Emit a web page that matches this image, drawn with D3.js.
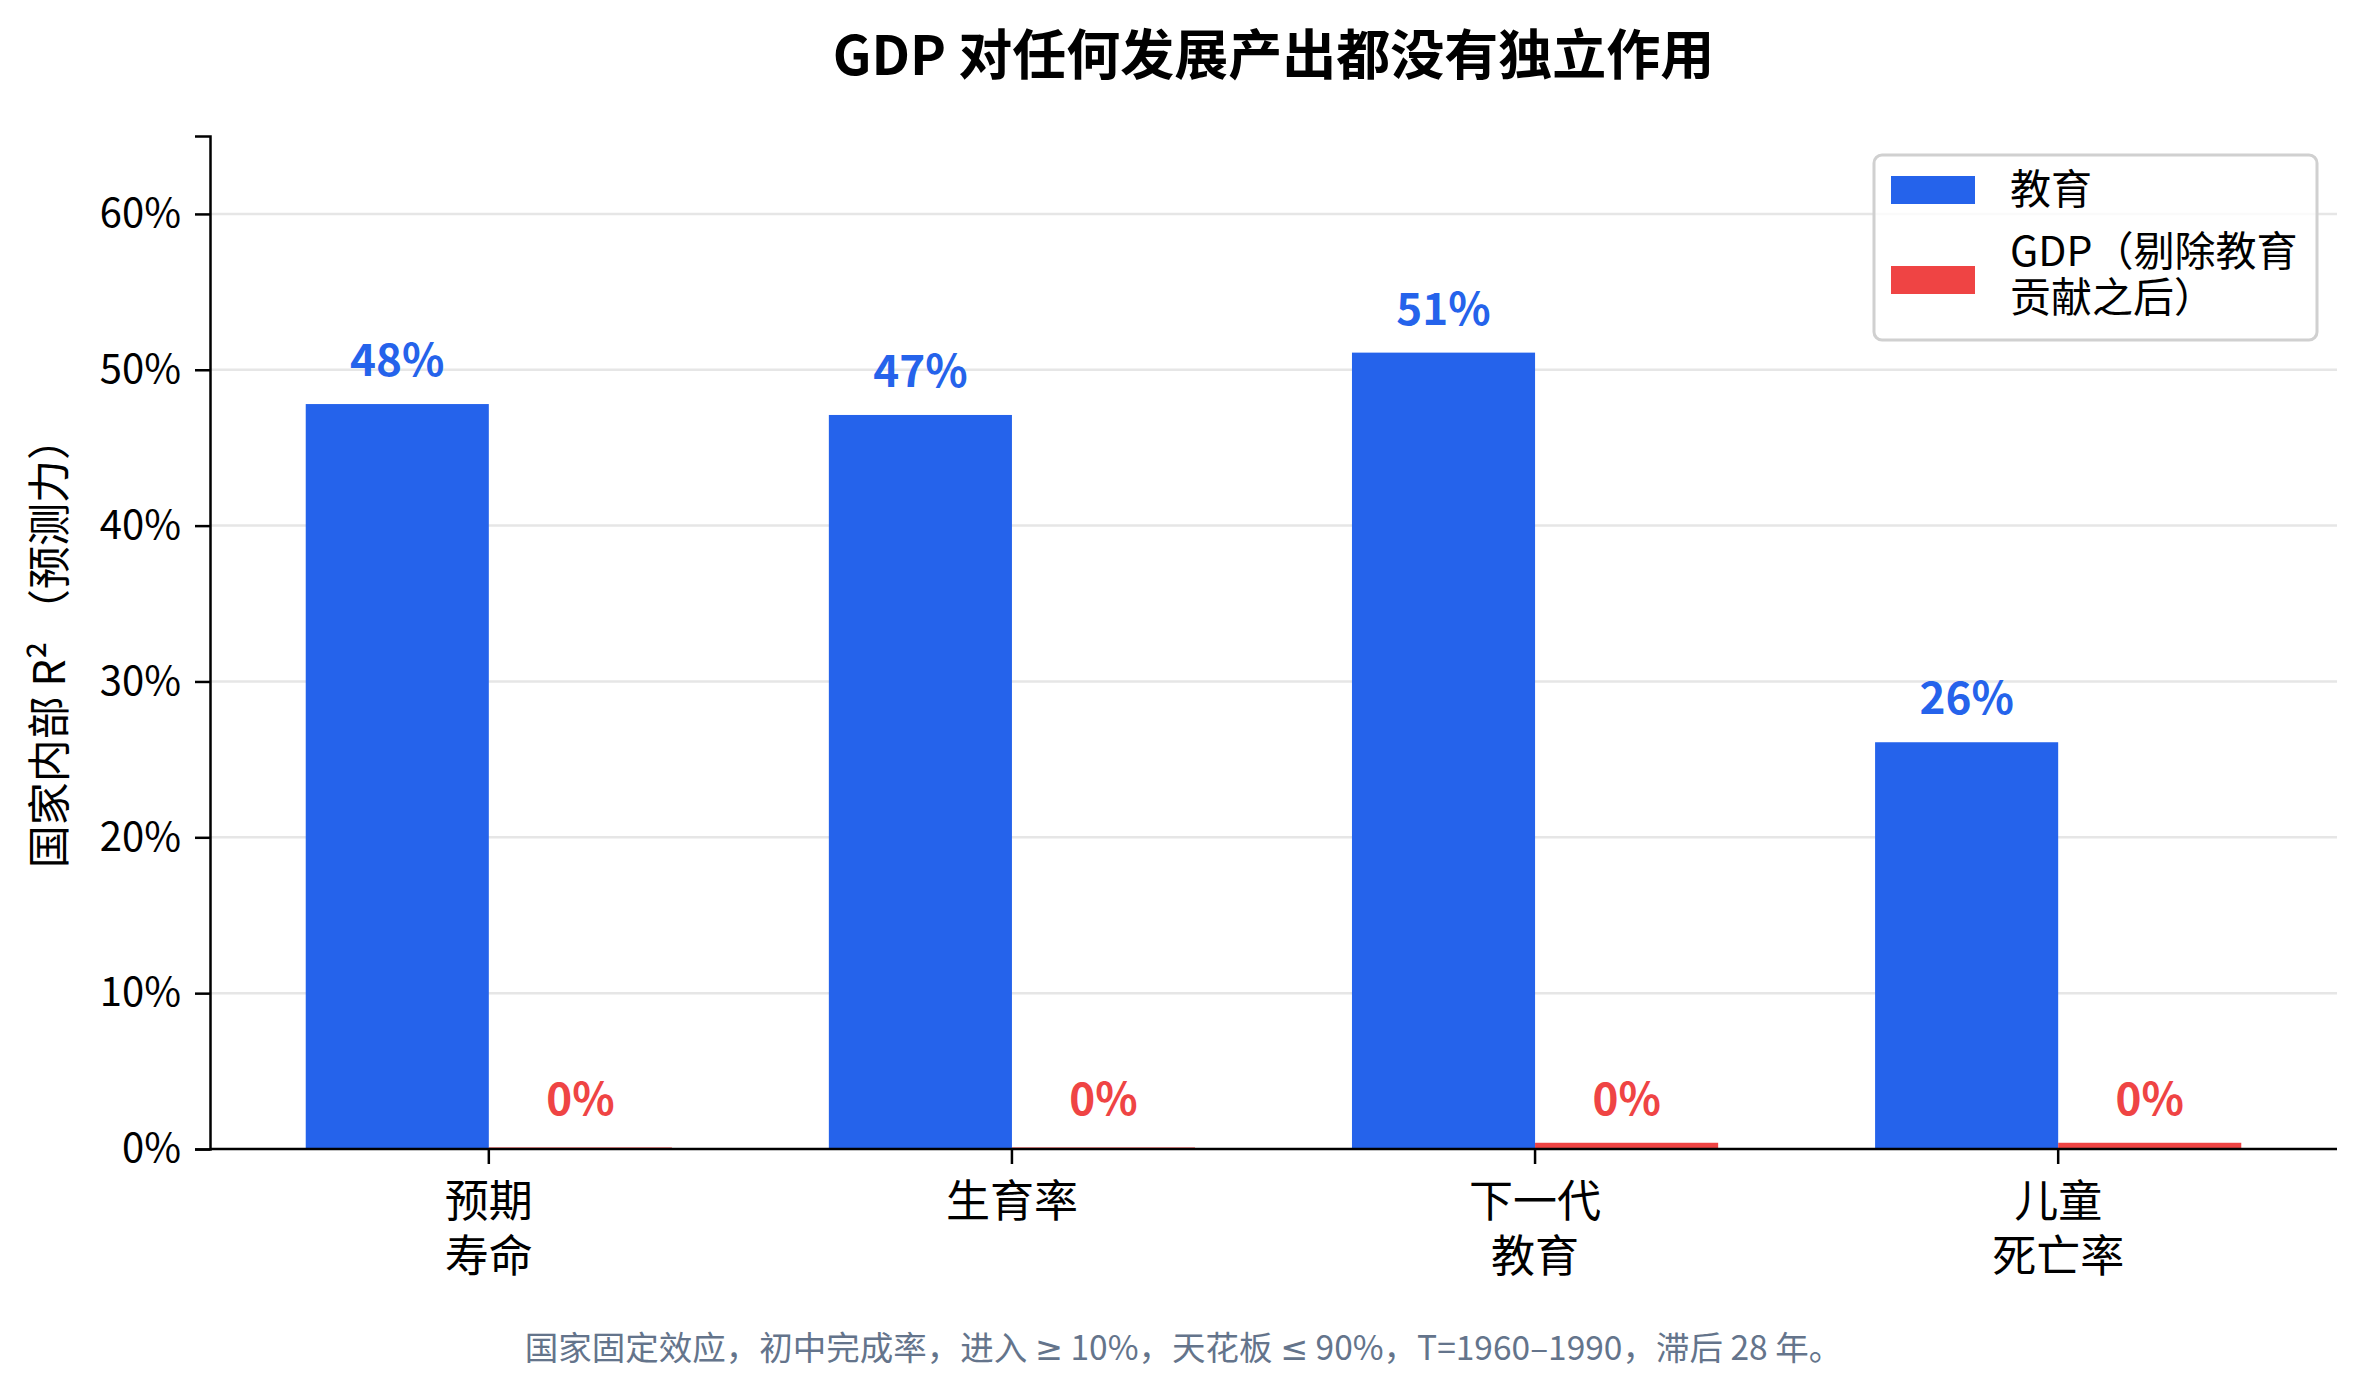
<!DOCTYPE html>
<html>
<head>
<meta charset="utf-8">
<script src="https://cdn.jsdelivr.net/npm/d3@7"></script>
<style>
  body { margin: 0; background: #fff; }
  svg text { font-family: "Noto Sans CJK SC", "Noto Sans", sans-serif; }
</style>
</head>
<body>
<div id="chart"></div>
<script>
// data
const categories = ["预期\n寿命", "生育率", "下一代\n教育", "儿童\n死亡率"];
const seriesNames = ["教育", "GDP（剔除教育\n贡献之后）"];
const education = [47.8, 47.1, 51.1, 26.1];
const gdpResidual = [0.1, 0.1, 0.4, 0.4];
const yTicks = [0, 10, 20, 30, 40, 50, 60];

const colors = ["#2563eb", "#ef4444"];

const width = 2367;
const height = 1398;
const margin = { top: 136, right: 30, bottom: 249, left: 210 };

const svg = d3.select("#chart")
  .append("svg")
  .attr("width", width)
  .attr("height", height);

const x0 = d3.scaleBand()
  .domain(categories)
  .range([margin.left, width - margin.right])
  .paddingInner(0.3)
  .paddingOuter(0.183);

const x1 = d3.scaleBand()
  .domain(seriesNames)
  .range([0, x0.bandwidth()]);

const y = d3.scaleLinear()
  .domain([0, 65])
  .range([height - margin.bottom, margin.top]);

// gridlines
svg.append("g")
  .selectAll("line")
  .data(yTicks.filter(d => d > 0))
  .enter()
  .append("line")
  .attr("x1", margin.left)
  .attr("x2", width - margin.right)
  .attr("y1", d => y(d))
  .attr("y2", d => y(d))
  .attr("stroke", "#e6e6e6")
  .attr("stroke-width", 2.5);

// bars
const rows = categories.map((c, i) => ({
  cat: c,
  vals: [education[i], gdpResidual[i]]
}));

const groups = svg.selectAll(".grp")
  .data(rows)
  .enter()
  .append("g")
  .attr("transform", d => `translate(${x0(d.cat)},0)`);

groups.selectAll("rect")
  .data(d => d.vals.map((v, j) => ({ v, j })))
  .enter()
  .append("rect")
  .attr("x", d => x1(seriesNames[d.j]))
  .attr("width", x1.bandwidth())
  .attr("y", d => y(d.v))
  .attr("height", d => y(0) - y(d.v))
  .attr("fill", d => colors[d.j]);

// value labels (tiny bars get a floor so the label clears the axis)
groups.selectAll(".val")
  .data(d => d.vals.map((v, j) => ({ v, j })))
  .enter()
  .append("text")
  .attr("x", d => x1(seriesNames[d.j]) + x1.bandwidth() / 2)
  .attr("y", d => y(Math.max(d.v, 0.4)) - 28)
  .attr("text-anchor", "middle")
  .style("font-size", "44px")
  .style("font-weight", "bold")
  .attr("fill", d => colors[d.j])
  .text(d => d3.format(".0f")(d.v) + "%");

// y axis
const yAxis = svg.append("g")
  .attr("transform", `translate(${margin.left},0)`)
  .call(d3.axisLeft(y).tickValues(yTicks).tickFormat(d => d + "%").tickSize(15).tickPadding(14));
yAxis.select(".domain").attr("stroke", "#000").attr("stroke-width", 2.5);
yAxis.selectAll(".tick line").attr("stroke", "#000").attr("stroke-width", 2.5);
yAxis.selectAll(".tick text")
  .attr("fill", "#000")
  .style("font-size", "40px")
  .style("font-family", "'Noto Sans CJK SC', sans-serif");

// x axis
const xAxis = svg.append("g")
  .attr("transform", `translate(0,${y(0)})`)
  .call(d3.axisBottom(x0).tickSize(15).tickFormat(""));
xAxis.select(".domain").attr("stroke", "#000").attr("stroke-width", 2.5)
  .attr("d", `M${margin.left},0H${width - margin.right}`);
xAxis.selectAll(".tick line").attr("stroke", "#000").attr("stroke-width", 2.5);

xAxis.selectAll(".tick")
  .append("text")
  .attr("text-anchor", "middle")
  .attr("fill", "#000")
  .style("font-size", "44px")
  .selectAll("tspan")
  .data(d => d.split("\n"))
  .enter()
  .append("tspan")
  .attr("x", 0)
  .attr("y", (d, i) => 68 + i * 55)
  .text(d => d);

// y label
svg.append("text")
  .attr("transform", `translate(46,${(y(0) + margin.top) / 2}) rotate(-90)`)
  .attr("text-anchor", "middle")
  .attr("dominant-baseline", "central")
  .style("font-size", "43px")
  .text("国家内部 R² （预测力）");

// title
svg.append("text")
  .attr("x", (margin.left + width - margin.right) / 2)
  .attr("y", 75)
  .attr("text-anchor", "middle")
  .style("font-size", "54px")
  .style("font-weight", "bold")
  .text("GDP 对任何发展产出都没有独立作用");

// legend
const legend = svg.append("g").attr("transform", "translate(1874,155)");
legend.append("rect")
  .attr("width", 443)
  .attr("height", 185)
  .attr("rx", 8)
  .attr("fill", "#fff")
  .attr("fill-opacity", 0.8)
  .attr("stroke", "#d0d0d0")
  .attr("stroke-width", 3);

const legendRows = [
  { sy: 21, lines: seriesNames[0].split("\n"), ty: [49] },
  { sy: 111, lines: seriesNames[1].split("\n"), ty: [111, 157] }
];
legendRows.forEach((r, i) => {
  legend.append("rect")
    .attr("x", 17)
    .attr("y", r.sy)
    .attr("width", 84)
    .attr("height", 28)
    .attr("fill", colors[i]);
  const t = legend.append("text")
    .attr("fill", "#000")
    .style("font-size", "41px");
  r.lines.forEach((ln, k) => {
    t.append("tspan")
      .attr("x", 136)
      .attr("y", r.ty[k])
      .text(ln);
  });
});

// footnote
const note = svg.append("text")
  .attr("x", width / 2)
  .attr("y", 1360)
  .attr("text-anchor", "middle")
  .attr("fill", "#64748b")
  .style("font-size", "33.5px");
const noteParts = [
  ["国家固定效应，初中完成率，进入 ", null],
  ["≥", "DejaVu Sans"],
  [" 10%，天花板 ", null],
  ["≤", "DejaVu Sans"],
  [" 90%，T=1960–1990，滞后 28 年。", null]
];
noteParts.forEach(([s, f]) => {
  const sp = note.append("tspan").text(s);
  if (f) sp.style("font-family", f);
});
</script>
</body>
</html>
